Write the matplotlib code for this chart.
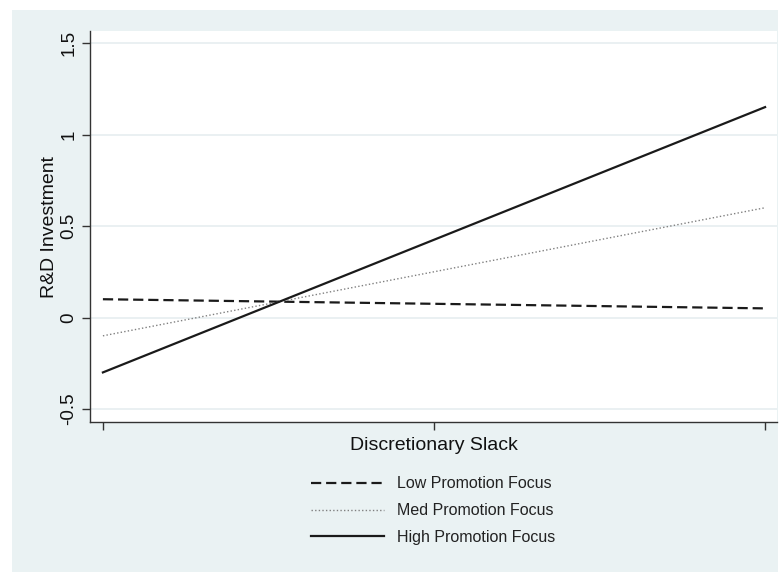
import matplotlib.pyplot as plt
from matplotlib.patches import Rectangle

plt.rcParams['font.family'] = ['Liberation Sans', 'DejaVu Sans']

# slack levels (low / mean / high) and predicted R&D investment
slack = [0, 2]
slack_ticks = [0, 1, 2]
low_focus = [0.10, 0.05]
med_focus = [-0.10, 0.60]
high_focus = [-0.30, 1.15]
y_ticks = [-0.5, 0, 0.5, 1, 1.5]
y_labels = ['-0.5', '0', '0.5', '1', '1.5']

bg = '#eaf2f3'

fig = plt.figure(figsize=(7.82, 5.76), dpi=100, facecolor='white')
# Stata-style outer graph region, kept behind the axes
fig.patches.append(Rectangle((12 / 782, 4 / 576), 766 / 782, 562 / 576,
                             transform=fig.transFigure, facecolor=bg,
                             edgecolor='none', zorder=-5))

ax = fig.add_axes([90 / 782, 1 - 422 / 576, 687 / 782, 391 / 576])
ax.set_facecolor('white')

ax.plot(slack, low_focus, color='#1a1a1a', lw=1.6, ls=(0, (4.6, 2.2)),
        label='Low Promotion Focus')
ax.plot(slack, med_focus, color='#808080', lw=1.0, ls=(0, (1, 1.6)),
        label='Med Promotion Focus')
ax.plot(slack, high_focus, color='#1a1a1a', lw=1.6, ls='-',
        label='High Promotion Focus')

ax.set_xlim(-0.039, 2.036)
ax.set_ylim(-0.571, 1.566)
ax.set_xticks(slack_ticks)
ax.set_xticklabels([''] * len(slack_ticks))
ax.set_yticks(y_ticks)
ax.set_yticklabels(y_labels, rotation=90, va='center', fontsize=13.5)
ax.yaxis.grid(True, color='#e6eef0', lw=1.2)
ax.set_axisbelow(True)

for side in ['top', 'right']:
    ax.spines[side].set_visible(False)
for side in ['left', 'bottom']:
    ax.spines[side].set_color('#333333')
    ax.spines[side].set_linewidth(1.0)
ax.tick_params(axis='both', direction='out', length=6, width=1.0,
               color='#333333', labelcolor='#111111')
ax.tick_params(axis='y', pad=3)

ax.set_ylabel('R&D Investment', fontsize=14, color='#111111', labelpad=2)
ax.set_xlabel('Discretionary Slack', fontsize=14, color='#111111', labelpad=1)

fig.legend(loc='upper center', bbox_to_anchor=(433 / 782, 1 - 462 / 576),
           frameon=False, fontsize=11.5, handlelength=4.6, handletextpad=0.8,
           labelspacing=0.74, labelcolor='#222222')

fig.savefig('out.png', dpi=100, facecolor='white')
